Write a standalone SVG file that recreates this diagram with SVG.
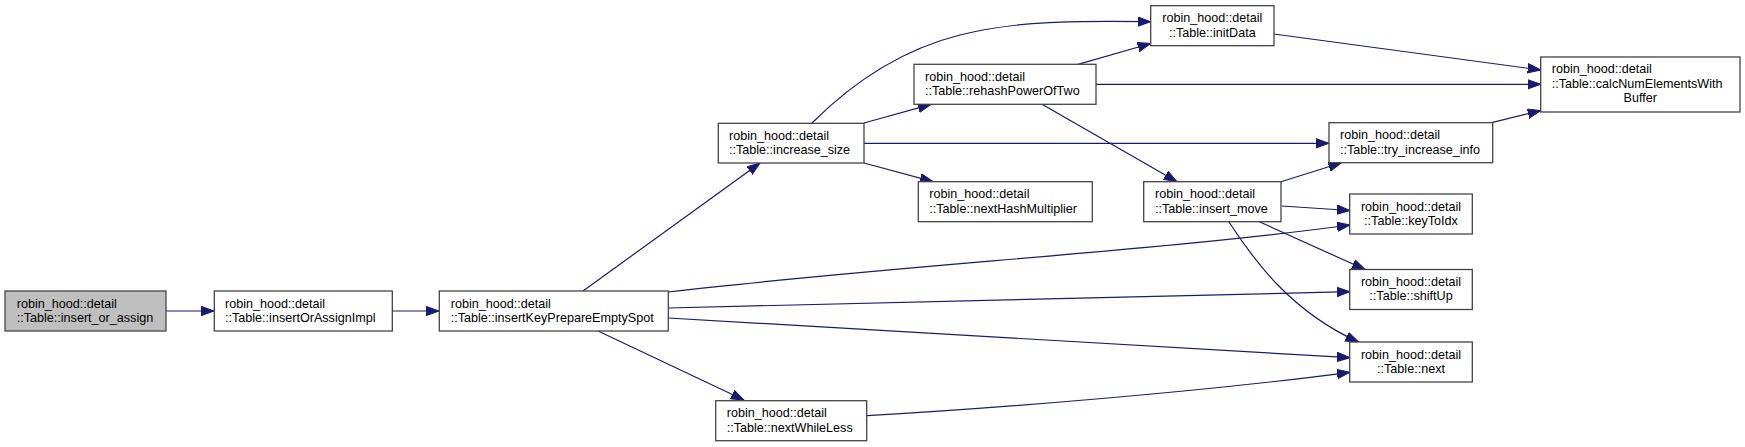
<svg xmlns="http://www.w3.org/2000/svg" width="1745" height="447" viewBox="0 0 1745 447">
<style>
.node rect{fill:#ffffff;stroke:#444444;stroke-width:1.3}
.node.hl rect{fill:#bfbfbf}
.node text{font-family:"Liberation Sans",Arial,Helvetica,sans-serif;font-size:12.6px;fill:#000000}
.edges path{fill:none;stroke:#191970;stroke-width:1.2;marker-end:url(#arr)}
</style>
<defs>
<marker id="arr" markerUnits="userSpaceOnUse" markerWidth="14" markerHeight="11" refX="13" refY="5" orient="auto">
<path d="M0,0.3 L13,5 L0,9.7 z" fill="#191970" stroke="#191970" stroke-width="1"/>
</marker>
</defs>
<rect width="1745" height="447" fill="#ffffff"/>
<g class="edges">
<path d="M166,311 L214,311"/>
<path d="M392,311 L439,311"/>
<path d="M583,291 L760,163"/>
<path d="M668,292 C900,265 1150,252 1350,225"/>
<path d="M668,308 L1350,291.7"/>
<path d="M668,318 L1350,357.7"/>
<path d="M598,331 L744,400"/>
<path d="M812,123 C850,85 900,50 960,35 C1020,20 1080,21 1150.7,21.7"/>
<path d="M864,123 L931,104.3"/>
<path d="M864,143.3 L1329,143.3"/>
<path d="M864,163 L933,181.7"/>
<path d="M1078,64.3 L1150.7,43.5"/>
<path d="M1096,84.3 L1540.7,84.3"/>
<path d="M1042,104.3 L1177,181.7"/>
<path d="M1274,34 L1540.7,70"/>
<path d="M1491.7,122.7 L1540.7,110.5"/>
<path d="M1281,181.7 L1341.5,162.7"/>
<path d="M1281.7,206 L1350,210.5"/>
<path d="M1259.3,221.7 L1365,269.5"/>
<path d="M1229,222 C1255,262 1292,312 1358.5,342"/>
<path d="M867,415.7 C1000,408 1200,392 1350,372.3"/>
</g>
<g id="n_insert_or_assign" class="node hl">
<rect x="5" y="291" width="161" height="40"/>
<text x="16.7" y="307.5">robin_hood::detail</text>
<text x="16.7" y="321.8">::Table::insert_or_assign</text>
</g>
<g id="n_insertOrAssignImpl" class="node">
<rect x="214.3" y="291" width="178" height="40"/>
<text x="225" y="307.5">robin_hood::detail</text>
<text x="225" y="321.8">::Table::insertOrAssignImpl</text>
</g>
<g id="n_insertKeyPrepareEmptySpot" class="node">
<rect x="439.3" y="291" width="229" height="40"/>
<text x="450.7" y="307.5">robin_hood::detail</text>
<text x="450.7" y="321.8">::Table::insertKeyPrepareEmptySpot</text>
</g>
<g id="n_increase_size" class="node">
<rect x="718.3" y="123.3" width="145.7" height="39.7"/>
<text x="729" y="139.8">robin_hood::detail</text>
<text x="729" y="154.1">::Table::increase_size</text>
</g>
<g id="n_nextWhileLess" class="node">
<rect x="715.7" y="400.7" width="151" height="40"/>
<text x="726.7" y="417.2">robin_hood::detail</text>
<text x="726.7" y="431.5">::Table::nextWhileLess</text>
</g>
<g id="n_rehashPowerOfTwo" class="node">
<rect x="914" y="64.3" width="182" height="40"/>
<text x="925" y="80.8">robin_hood::detail</text>
<text x="925" y="95.1">::Table::rehashPowerOfTwo</text>
</g>
<g id="n_nextHashMultiplier" class="node">
<rect x="918.3" y="181.7" width="174" height="40"/>
<text x="929.3" y="198.2">robin_hood::detail</text>
<text x="929.3" y="212.5">::Table::nextHashMultiplier</text>
</g>
<g id="n_initData" class="node">
<rect x="1150.7" y="5.7" width="123.3" height="40"/>
<text x="1212.3" y="22.2" text-anchor="middle">robin_hood::detail</text>
<text x="1212.3" y="36.5" text-anchor="middle">::Table::initData</text>
</g>
<g id="n_insert_move" class="node">
<rect x="1143.7" y="181.7" width="137.3" height="40"/>
<text x="1155" y="198.2">robin_hood::detail</text>
<text x="1155" y="212.5">::Table::insert_move</text>
</g>
<g id="n_try_increase_info" class="node">
<rect x="1329" y="122.7" width="163.7" height="40"/>
<text x="1340" y="139.2">robin_hood::detail</text>
<text x="1340" y="153.5">::Table::try_increase_info</text>
</g>
<g id="n_calcNumElementsWithBuffer" class="node">
<rect x="1540.7" y="57" width="199.3" height="55"/>
<text x="1551.7" y="73.3">robin_hood::detail</text>
<text x="1551.7" y="87.6">::Table::calcNumElementsWith</text>
<text x="1640.3" y="101.9" text-anchor="middle">Buffer</text>
</g>
<g id="n_keyToIdx" class="node">
<rect x="1349.7" y="194" width="122.6" height="40"/>
<text x="1411" y="210.5" text-anchor="middle">robin_hood::detail</text>
<text x="1411" y="224.8" text-anchor="middle">::Table::keyToIdx</text>
</g>
<g id="n_shiftUp" class="node">
<rect x="1349.7" y="269.5" width="122.6" height="40"/>
<text x="1411" y="286" text-anchor="middle">robin_hood::detail</text>
<text x="1411" y="300.3" text-anchor="middle">::Table::shiftUp</text>
</g>
<g id="n_next" class="node">
<rect x="1349.7" y="342" width="122.6" height="40"/>
<text x="1411" y="358.5" text-anchor="middle">robin_hood::detail</text>
<text x="1411" y="372.8" text-anchor="middle">::Table::next</text>
</g>
</svg>
